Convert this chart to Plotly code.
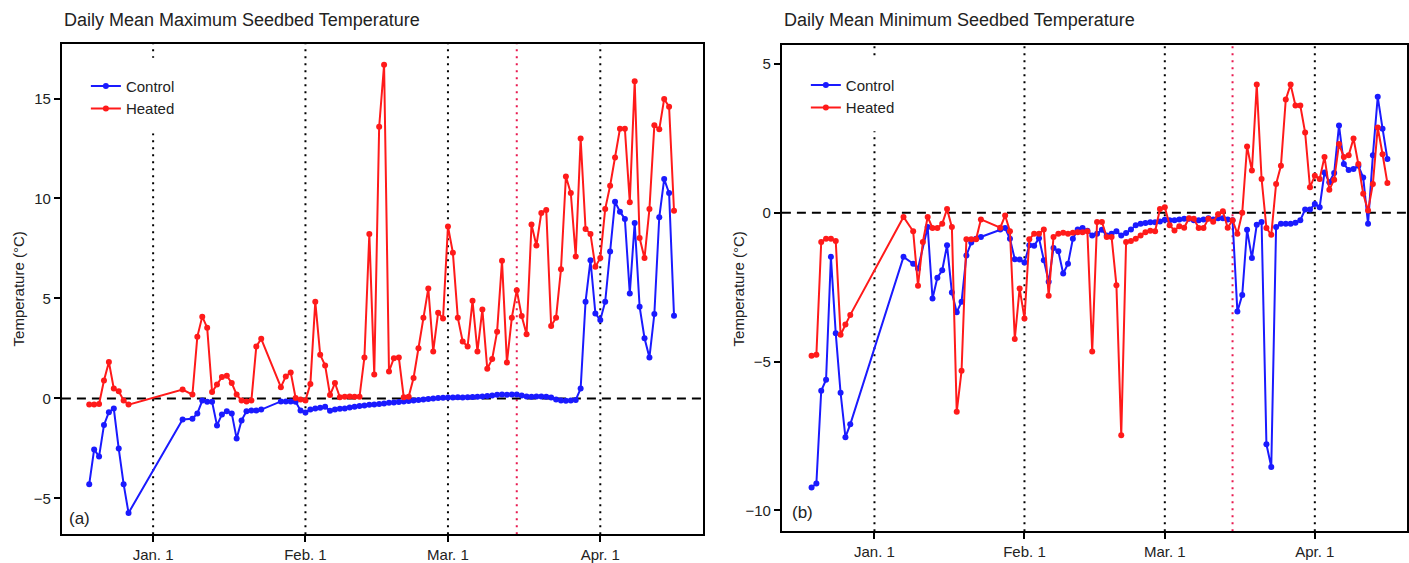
import plotly.graph_objects as go
import pandas as pd

BASE = pd.Timestamp("2012-01-01")

# ---------------- data (day offsets from Jan. 1) ----------------
# Panel (a): daily mean maximum seedbed temperature
max_days = (list(range(-13, -4)) + [6] + list(range(8, 23)) + list(range(26, 107)))
max_control = [
    -4.29, -2.55, -2.91, -1.33, -0.69, -0.51, -2.51, -4.29, -5.73,
    -1.05,
    -1.02, -0.75, -0.11, -0.17, -0.17, -1.35, -0.80, -0.64, -0.75, -2.01, -1.10, -0.64, -0.61, -0.61, -0.56,
    -0.15, -0.15, -0.15, -0.17, -0.60, -0.70, -0.55, -0.50, -0.47, -0.42, -0.62, -0.55,
    -0.52, -0.50, -0.45, -0.42, -0.38, -0.35, -0.32, -0.30, -0.28, -0.25, -0.22, -0.20, -0.18, -0.15,
    -0.13, -0.10, -0.08, -0.05, -0.03, 0.00, 0.02, 0.03, 0.05, 0.05, 0.06, 0.05, 0.06, 0.07, 0.08,
    0.10, 0.12, 0.15, 0.18, 0.20, 0.18, 0.20, 0.20, 0.15, 0.10, 0.08, 0.10, 0.10, 0.08, 0.05,
    -0.05, -0.10, -0.12, -0.10, -0.08,
    0.49, 4.84, 6.91, 4.25, 3.92, 4.84, 7.35, 9.84, 9.34, 8.98, 5.25, 8.78, 4.59, 3.01, 2.05,
    4.22, 9.06, 10.97, 10.27, 4.14,
]
max_heated = [
    -0.31, -0.30, -0.28, 0.89, 1.82, 0.49, 0.36, -0.10, -0.31,
    0.44,
    0.19, 3.09, 4.09, 3.54, 0.32, 0.69, 1.07, 1.13, 0.77, 0.19, -0.11, -0.15, -0.10, 2.60, 2.98,
    0.56, 1.10, 1.30, 0.02, -0.06, -0.10, 0.72, 4.84, 2.18, 1.65,
    0.17, 0.77, 0.06, 0.08, 0.10, 0.08, 0.08, 2.05, 8.23, 1.19,
    13.59, 16.69, 1.35, 2.01, 2.05, 0.06, 0.08, 1.02, 2.51, 4.04,
    5.50, 2.35, 4.29, 4.00, 8.60, 7.29, 4.04, 2.85, 2.60, 4.88,
    2.35, 4.45, 1.48, 1.97, 3.34, 6.88, 1.80, 4.04, 5.41, 4.12,
    3.21, 8.70, 7.65, 9.28, 9.43, 3.62, 4.04, 6.46, 11.10, 10.27,
    7.10, 13.00, 8.48, 8.23, 6.58, 7.02, 9.48, 10.64, 12.05, 13.49,
    13.49, 9.81, 15.86, 8.02, 7.02, 9.48, 13.66, 13.46, 14.98, 14.59, 9.39,
]

# Panel (b): daily mean minimum seedbed temperature
min_days_control = (list(range(-13, -4)) + [6, 8, 9] + list(range(11, 23)) + list(range(26, 107)))
min_control = [
    -9.23, -9.10, -5.98, -5.61, -1.48, -4.05, -6.05, -7.54, -7.11,
    -1.48, -1.71, -1.87,
    -0.48, -2.88, -2.18, -1.93, -1.09, -2.68, -3.34, -2.99, -1.43, -1.00, -0.87, -0.81,
    -0.56, -0.51, -0.87, -1.56, -1.57, -1.67, -1.09, -1.11, -0.85, -1.59,
    -2.32, -1.18, -1.29, -2.04, -1.71, -0.87, -0.56, -0.51, -0.60, -0.76,
    -0.70, -0.57, -0.76, -0.70, -0.62, -0.76, -0.68, -0.56, -0.42, -0.37,
    -0.34, -0.32, -0.32, -0.29, -0.23, -0.25, -0.25, -0.22, -0.20, -0.20,
    -0.25, -0.25, -0.22, -0.18, -0.22, -0.18, -0.18, -0.22, -0.25, -3.32,
    -2.76, -0.57, -1.52, -0.40, -0.31, -7.78, -8.54, -0.48, -0.37, -0.37,
    -0.37, -0.33, -0.25, 0.11, 0.11, 0.30, 0.19, 1.36, 1.03, 1.34,
    2.94, 1.64, 1.44, 1.47, 1.58, 1.19, -0.37, 1.94, 3.90, 2.83, 1.81,
]
min_days_heated = (list(range(-13, -4)) + [6] + list(range(8, 23)) + list(range(26, 107)))
min_heated = [
    -4.80, -4.77, -0.98, -0.87, -0.87, -0.95, -4.10, -3.75, -3.43,
    -0.14,
    -0.62, -2.45, -0.98, -0.14, -0.51, -0.51, -0.37, 0.13, -0.48, -6.69, -5.31, -0.89, -0.89, -0.89, -0.22,
    -0.50, -0.09, -0.62, -4.24, -2.54, -3.55, -0.89, -0.70, -0.70, -0.56,
    -2.79, -0.81, -0.70, -0.67, -0.70, -0.67, -0.65, -0.65, -0.62, -4.66,
    -0.31, -0.31, -0.81, -0.81, -2.43, -7.48, -0.98, -0.95, -0.87, -0.76,
    -0.65, -0.60, -0.62, 0.13, 0.19, -0.42, -0.59, -0.45, -0.50, -0.18,
    -0.20, -0.51, -0.51, -0.20, -0.30, -0.05, 0.05, -0.50, -0.25, -0.70,
    0.00, 2.23, 1.42, 4.31, 1.14, -0.51, -0.74, 0.97, 1.58, 3.81,
    4.31, 3.61, 3.61, 2.70, 0.86, 1.25, 1.14, 1.88, 0.78, 1.11,
    2.31, 1.88, 1.94, 2.50, 1.64, 0.64, 0.08, 0.97, 2.87, 1.97, 1.00,
]

tick_days = [0, 31, 60, 91]
tick_labels = ["Jan. 1", "Feb. 1", "Mar. 1", "Apr. 1"]
treatment_day = 74  # Mar. 15

assert len(max_days) == len(max_control) == len(max_heated)
assert len(min_days_control) == len(min_control)
assert len(min_days_heated) == len(min_heated)


def to_date(d):
    return (BASE + pd.Timedelta(days=float(d))).strftime("%Y-%m-%d %H:%M:%S")


def dates(days):
    return [to_date(d) for d in days]


W, H = 1409, 563
BLUE = "#1a1aff"
RED = "#ff1a1a"
FONT = "Liberation Sans, Arial, sans-serif"
TXT = "#222222"

fig = go.Figure()

def add_series(x, y, name, color, xa, ya, legend, show):
    fig.add_trace(go.Scatter(
        x=dates(x), y=y, name=name, mode="lines+markers",
        line=dict(color=color, width=2), marker=dict(color=color, size=6),
        xaxis=xa, yaxis=ya, legend=legend, showlegend=show,
    ))

add_series(max_days, max_control, "Control", BLUE, "x", "y", "legend", True)
add_series(max_days, max_heated, "Heated", RED, "x", "y", "legend", True)
add_series(min_days_control, min_control, "Control", BLUE, "x2", "y2", "legend2", True)
add_series(min_days_heated, min_heated, "Heated", RED, "x2", "y2", "legend2", True)

# panel geometry in pixels
L = dict(x0=62, x1=704, y0=44, y1=537)
R = dict(x0=783, x1=1409, y0=45, y1=534)

def dom_x(p):
    return [p["x0"] / W, p["x1"] / W]

def dom_y(p):
    return [1 - p["y1"] / H, 1 - p["y0"] / H]

axis_common = dict(
    showline=True, linewidth=2, linecolor="black", mirror=True,
    ticks="outside", ticklen=6, tickwidth=1.5, tickcolor="black",
    showgrid=False, zeroline=False,
    tickfont=dict(family=FONT, size=15, color=TXT),
)

fig.update_layout(
    width=W, height=H,
    margin=dict(l=0, r=0, t=0, b=0),
    paper_bgcolor="white", plot_bgcolor="white",
    font=dict(family=FONT, color=TXT),
    xaxis=dict(domain=dom_x(L), type="date", range=[to_date(-18.56), to_date(111.9)],
               tickvals=dates(tick_days), ticktext=tick_labels, anchor="y", **axis_common),
    yaxis=dict(domain=dom_y(L), range=[-6.79, 17.74], tickvals=[-5, 0, 5, 10, 15],
               anchor="x", **axis_common),
    xaxis2=dict(domain=dom_x(R), type="date", range=[to_date(-19.13), to_date(110.05)],
                tickvals=dates(tick_days), ticktext=tick_labels, anchor="y2", **axis_common),
    yaxis2=dict(domain=dom_y(R), range=[-10.70, 5.65], tickvals=[-10, -5, 0, 5],
                anchor="x2", **axis_common),
    legend=dict(x=86 / W, y=1 - 70 / H, xanchor="left", yanchor="top",
                bgcolor="rgba(0,0,0,0)", borderwidth=0,
                font=dict(family=FONT, size=15, color=TXT)),
    legend2=dict(x=807 / W, y=1 - 69 / H, xanchor="left", yanchor="top",
                 bgcolor="rgba(0,0,0,0)", borderwidth=0,
                 font=dict(family=FONT, size=15, color=TXT)),
)

shapes = []
for xa, ya in (("x", "y"), ("x2", "y2")):
    for d in tick_days:
        shapes.append(dict(type="line", xref=xa, yref=ya + " domain", x0=to_date(d), x1=to_date(d),
                           y0=0, y1=1, layer="below",
                           line=dict(color="black", width=2, dash="2px,5px")))
    shapes.append(dict(type="line", xref=xa, yref=ya + " domain", x0=to_date(treatment_day),
                       x1=to_date(treatment_day), y0=0, y1=1, layer="below",
                       line=dict(color="#e8194f", width=2, dash="2px,5px")))
    shapes.append(dict(type="line", xref=xa + " domain", yref=ya, x0=0, x1=1, y0=0, y1=0,
                       layer="below", line=dict(color="black", width=2, dash="9px,6px")))

# white legend backgrounds
for (px0, px1, py0, py1) in ((85, 200, 58, 134), (806, 925, 57, 132)):
    shapes.append(dict(type="rect", xref="paper", yref="paper",
                       x0=px0 / W, x1=px1 / W, y0=1 - py1 / H, y1=1 - py0 / H,
                       fillcolor="white", line=dict(width=0), layer="above"))
fig.update_layout(shapes=shapes)

ann = [
    dict(text="Daily Mean Maximum Seedbed Temperature", x=62 / W, y=1 - 20 / H,
         xanchor="left", yanchor="middle", font=dict(size=18)),
    dict(text="Daily Mean Minimum Seedbed Temperature", x=783 / W, y=1 - 20 / H,
         xanchor="left", yanchor="middle", font=dict(size=18)),
    dict(text="Temperature (°C)", x=18 / W, y=1 - 290 / H, textangle=-90,
         xanchor="center", yanchor="middle", font=dict(size=15)),
    dict(text="Temperature (°C)", x=740 / W, y=1 - 290 / H, textangle=-90,
         xanchor="center", yanchor="middle", font=dict(size=15)),
    dict(text="(a)", x=80 / W, y=1 - 521 / H, xanchor="center", yanchor="middle",
         font=dict(size=17)),
    dict(text="(b)", x=804 / W, y=1 - 515 / H, xanchor="center", yanchor="middle",
         font=dict(size=17)),
]
for a in ann:
    a.update(xref="paper", yref="paper", showarrow=False)
    a["font"].update(family=FONT, color=TXT)
fig.update_layout(annotations=ann)

fig.write_html("out.html")
